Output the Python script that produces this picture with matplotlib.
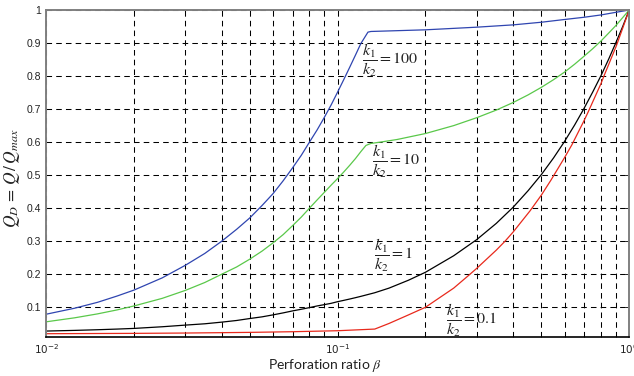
import matplotlib
matplotlib.use("Agg")
import matplotlib.pyplot as plt
from matplotlib.ticker import FixedLocator, NullFormatter, LogLocator

# ---- data ----
beta_100 = [0.01, 0.0125, 0.015, 0.0175, 0.02, 0.025, 0.03, 0.035, 0.04, 0.045, 0.05, 0.055,
            0.06, 0.065, 0.07, 0.075, 0.08, 0.085, 0.09, 0.095, 0.1, 0.105, 0.11, 0.115, 0.12,
            0.127, 0.13, 0.2, 0.3, 0.4, 0.5, 0.61, 0.7, 0.8, 0.9, 1.0]
q_100 = [0.079, 0.097, 0.115, 0.134, 0.152, 0.189, 0.227, 0.263, 0.30, 0.336, 0.371, 0.408,
         0.444, 0.483, 0.522, 0.56, 0.60, 0.637, 0.675, 0.713, 0.752, 0.79, 0.827, 0.863, 0.898,
         0.933, 0.935, 0.940, 0.948, 0.955, 0.963, 0.972, 0.978, 0.985, 0.993, 1.0]

beta_10 = [0.01, 0.0125, 0.015, 0.0175, 0.02, 0.025, 0.03, 0.035, 0.04, 0.045, 0.05, 0.055,
           0.06, 0.065, 0.07, 0.075, 0.08, 0.085, 0.09, 0.095, 0.1, 0.105, 0.11, 0.115, 0.12,
           0.125, 0.13, 0.14, 0.16, 0.2, 0.25, 0.3, 0.35, 0.4, 0.45, 0.5, 0.55, 0.6, 0.65, 0.7,
           0.75, 0.8, 0.85, 0.9, 0.95, 1.0]
q_10 = [0.056, 0.068, 0.080, 0.092, 0.104, 0.127, 0.151, 0.175, 0.20, 0.222, 0.246, 0.27,
        0.295, 0.32, 0.347, 0.373, 0.40, 0.425, 0.448, 0.47, 0.49, 0.51, 0.53, 0.55, 0.571,
        0.59, 0.596, 0.600, 0.608, 0.626, 0.65, 0.674, 0.697, 0.72, 0.743, 0.766, 0.789, 0.812,
        0.836, 0.86, 0.883, 0.906, 0.93, 0.953, 0.977, 1.0]

beta_1 = [0.01, 0.0125, 0.015, 0.0175, 0.02, 0.025, 0.03, 0.035, 0.04, 0.045, 0.05, 0.055,
          0.06, 0.065, 0.07, 0.075, 0.08, 0.085, 0.09, 0.095, 0.1, 0.105, 0.11, 0.115, 0.12,
          0.134, 0.15, 0.175, 0.2, 0.25, 0.3, 0.35, 0.4, 0.45, 0.5, 0.55, 0.6, 0.65, 0.7, 0.75,
          0.8, 0.85, 0.9, 0.95, 1.0]
q_1 = [0.028, 0.030, 0.032, 0.034, 0.036, 0.041, 0.046, 0.050, 0.055, 0.060, 0.066, 0.071,
       0.077, 0.083, 0.089, 0.094, 0.099, 0.104, 0.108, 0.112, 0.117, 0.121, 0.125, 0.129, 0.133,
       0.144, 0.158, 0.182, 0.206, 0.256, 0.305, 0.354, 0.403, 0.453, 0.502, 0.552, 0.602,
       0.652, 0.702, 0.752, 0.801, 0.851, 0.901, 0.95, 1.0]

beta_01 = [0.01, 0.02, 0.03, 0.05, 0.07, 0.1, 0.134, 0.15, 0.175, 0.2, 0.25, 0.28, 0.3, 0.35,
           0.375, 0.4, 0.457, 0.5, 0.539, 0.6, 0.636, 0.7, 0.722, 0.8, 0.819, 0.9, 0.915, 0.95, 1.0]
q_01 = [0.020, 0.021, 0.022, 0.024, 0.026, 0.029, 0.034, 0.051, 0.077, 0.10, 0.158, 0.195,
        0.218, 0.273, 0.30, 0.328, 0.392, 0.44, 0.485, 0.553, 0.592, 0.665, 0.69, 0.777, 0.80,
        0.888, 0.905, 0.945, 1.0]

yticks = [0.1, 0.2, 0.3, 0.4, 0.5, 0.6, 0.7, 0.8, 0.9, 1.0]
ytick_labels = ["0.1", "0.2", "0.3", "0.4", "0.5", "0.6", "0.7", "0.8", "0.9", "1"]
xticks = [0.01, 0.1, 1.0]
xtick_labels = [r"$10^{-2}$", r"$10^{-1}$", r"$10^{0}$"]

labels = [r"$\dfrac{k_1}{k_2} = 100$", r"$\dfrac{k_1}{k_2} = 10$",
          r"$\dfrac{k_1}{k_2} = 1$", r"$\dfrac{k_1}{k_2} = 0.1$"]
label_pos = [(0.121, 0.846), (0.131, 0.541), (0.133, 0.257), (0.236, 0.06)]

plt.rcParams['lines.scale_dashes'] = False
plt.rcParams['mathtext.fontset'] = 'stix'

fig = plt.figure(figsize=(6.34, 3.76), dpi=100)
ax = fig.add_axes([46.2 / 634, 1 - 337 / 376, 583 / 634, 327 / 376])

ax.plot(beta_100, q_100, color="#2f45b0", lw=0.9)
ax.plot(beta_10, q_10, color="#5ac84a", lw=0.9)
ax.plot(beta_1, q_1, color="#000000", lw=0.9)
ax.plot(beta_01, q_01, color="#e8291c", lw=0.9)

ax.set_xscale("log")
ax.set_xlim(0.01, 1.0)
ax.set_ylim(0.01, 1.0)

ax.xaxis.set_major_locator(FixedLocator(xticks))
ax.xaxis.set_minor_locator(LogLocator(base=10, subs=range(2, 10)))
ax.xaxis.set_minor_formatter(NullFormatter())
ax.set_xticklabels(xtick_labels)
ax.set_yticks(yticks)
ax.set_yticklabels(ytick_labels)

for lab in ax.get_xticklabels() + ax.get_yticklabels():
    lab.set_fontfamily("Liberation Sans")
    lab.set_fontsize(7.5)
    lab.set_color("#222222")
for lab in ax.get_xticklabels():
    lab.set_math_fontfamily("dejavusans")

ax.tick_params(which="both", direction="in", top=True, right=True, length=3, width=0.6, pad=4)
ax.tick_params(which="minor", length=2)

ax.grid(True, which="major", axis="both", color="black", linestyle=(0, (4, 3)), lw=0.75)
ax.grid(True, which="minor", axis="x", color="black", linestyle=(0, (4, 3)), lw=0.75)

for s in ["left", "top", "right"]:
    ax.spines[s].set_color("#808080")
    ax.spines[s].set_linewidth(1.4)
ax.spines["bottom"].set_color("black")
ax.spines["bottom"].set_linewidth(1.2)

for txt, (x, y) in zip(labels, label_pos):
    ax.text(x, y, txt, fontsize=11.5, va="center", ha="left", color="#222222")

ax.set_xlabel(r"Perforation ratio $\beta$", fontfamily="Lato", fontsize=10, color="#222222")
ax.xaxis.set_label_coords(0.478, -0.062)
ax.set_ylabel(r"$Q_D\,=\,Q\,/\,Q_{max}$", fontsize=12.5, color="#222222")
ax.yaxis.set_label_coords(-0.041, 0.485)

fig.savefig("out.png", dpi=100)
